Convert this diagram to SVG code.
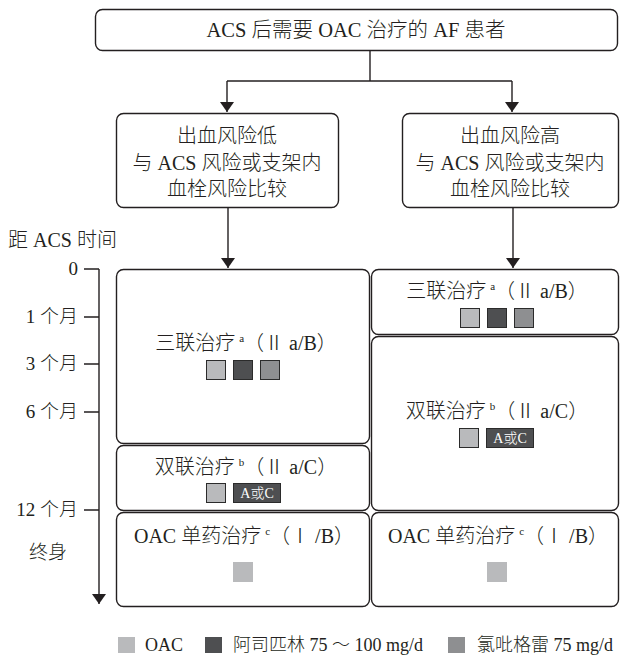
<svg xmlns="http://www.w3.org/2000/svg" width="620" height="656" viewBox="0 0 620 656">
  <style>
    text { font-family: "Liberation Serif", "Noto Sans CJK SC", serif; font-weight: 300; fill: #231f20; }
    .t20 { font-size: 20px; }
    .t19 { font-size: 19px; }
    .t18 { font-size: 18px; }
    .mid { text-anchor: middle; }
    .end { text-anchor: end; }
    .box { fill: #ffffff; stroke: #231f20; stroke-width: 1.4; }
    .line { fill: none; stroke: #231f20; stroke-width: 1.4; }
    .sq { stroke: #2b2b2b; stroke-width: 1; }
    .oac { fill: #b9babc; }
    .asa { fill: #4e4f51; }
    .clo { fill: #8e8f91; }
    .sup { font-size: 11px; }
    .tag { font-size: 14px; fill: #ffffff; text-anchor: middle; }
  </style>
  <defs>
    <marker id="arrow" viewBox="0 0 10 14" refX="10" refY="7" markerWidth="10" markerHeight="14" markerUnits="userSpaceOnUse" orient="auto">
      <path d="M0,0 L10,7 L0,14 Z" fill="#231f20"/>
    </marker>
  </defs>

  <!-- connectors -->
  <g id="connectors">
    <path class="line" d="M370,50 V81"/>
    <path class="line" d="M227,81 H512"/>
    <path class="line" d="M227,81 V112" marker-end="url(#arrow)"/>
    <path class="line" d="M512,81 V112" marker-end="url(#arrow)"/>
    <path class="line" d="M228,207 V268" marker-end="url(#arrow)"/>
    <path class="line" d="M513,207 V268" marker-end="url(#arrow)"/>
  </g>

  <!-- root -->
  <g id="root">
    <rect class="box" x="95.5" y="9.5" width="522" height="41" rx="7"/>
    <text class="t20 mid" x="356" y="37" style="font-size:20.5px">ACS 后需要 OAC 治疗的 AF 患者</text>
  </g>

  <!-- risk groups -->
  <g id="low-bleeding">
    <rect class="box" x="116.5" y="113.5" width="222" height="94" rx="7"/>
    <text class="t20 mid" x="227" y="143">出血风险低</text>
    <text class="t20 mid" x="227" y="170">与 ACS 风险或支架内</text>
    <text class="t20 mid" x="227" y="196">血栓风险比较</text>
  </g>
  <g id="high-bleeding">
    <rect class="box" x="402.5" y="113.5" width="216" height="94" rx="7"/>
    <text class="t20 mid" x="510" y="143">出血风险高</text>
    <text class="t20 mid" x="510" y="170">与 ACS 风险或支架内</text>
    <text class="t20 mid" x="510" y="196">血栓风险比较</text>
  </g>

  <!-- time axis -->
  <g id="time-axis">
    <text class="t20" x="8" y="247">距 ACS 时间</text>
    <path class="line" d="M99,269 V604" marker-end="url(#arrow)"/>
    <path class="line" d="M84,269 H99 M84,317 H99 M84,364 H99 M84,412 H99 M84,510 H99"/>
    <text class="t19 end" x="78" y="275">0</text>
    <text class="t19 end" x="78" y="323">1 个月</text>
    <text class="t19 end" x="78" y="370">3 个月</text>
    <text class="t19 end" x="78" y="418">6 个月</text>
    <text class="t19 end" x="78" y="516">12 个月</text>
    <text class="t19 mid" x="48" y="559">终身</text>
  </g>

  <!-- low bleeding risk regimen -->
  <g id="low-triple">
    <rect class="box" x="116.5" y="269.5" width="253" height="174" rx="7"/>
    <text class="t20 mid" x="246" y="350">三联治疗<tspan class="sup" dx="4" dy="-8">a</tspan><tspan dy="8">（Ⅱ a/B）</tspan></text>
    <rect class="sq oac" x="206.5" y="360.5" width="19" height="19"/>
    <rect class="sq asa" x="233.5" y="360.5" width="19" height="19"/>
    <rect class="sq clo" x="260.5" y="360.5" width="19" height="19"/>
  </g>
  <g id="low-dual">
    <rect class="box" x="116.5" y="445.5" width="253" height="65" rx="7"/>
    <text class="t20 mid" x="246" y="474">双联治疗<tspan class="sup" dx="4" dy="-8">b</tspan><tspan dy="8">（Ⅱ a/C）</tspan></text>
    <rect class="sq oac" x="206.5" y="483.5" width="19" height="19"/>
    <rect class="sq asa" x="233.5" y="483.5" width="47" height="19"/>
    <text class="tag" x="257" y="498">A或C</text>
  </g>
  <g id="low-mono">
    <rect class="box" x="116.5" y="512.5" width="253" height="94" rx="7"/>
    <text class="t20 mid" x="244" y="543">OAC 单药治疗<tspan class="sup" dx="4" dy="-8">c</tspan><tspan dy="8">（Ⅰ /B）</tspan></text>
    <rect class="oac" x="233" y="562" width="20" height="20"/>
  </g>

  <!-- high bleeding risk regimen -->
  <g id="high-triple">
    <rect class="box" x="371.5" y="269.5" width="247" height="65" rx="7"/>
    <text class="t20 mid" x="497" y="298">三联治疗<tspan class="sup" dx="4" dy="-8">a</tspan><tspan dy="8">（Ⅱ a/B）</tspan></text>
    <rect class="sq oac" x="460.5" y="308.5" width="19" height="19"/>
    <rect class="sq asa" x="487.5" y="308.5" width="19" height="19"/>
    <rect class="sq clo" x="514.5" y="308.5" width="19" height="19"/>
  </g>
  <g id="high-dual">
    <rect class="box" x="371.5" y="336.5" width="247" height="174" rx="7"/>
    <text class="t20 mid" x="497" y="418">双联治疗<tspan class="sup" dx="4" dy="-8">b</tspan><tspan dy="8">（Ⅱ a/C）</tspan></text>
    <rect class="sq oac" x="459.5" y="428.5" width="19" height="19"/>
    <rect class="sq asa" x="486.5" y="428.5" width="47" height="19"/>
    <text class="tag" x="510" y="443">A或C</text>
  </g>
  <g id="high-mono">
    <rect class="box" x="371.5" y="512.5" width="247" height="94" rx="7"/>
    <text class="t20 mid" x="498" y="543">OAC 单药治疗<tspan class="sup" dx="4" dy="-8">c</tspan><tspan dy="8">（Ⅰ /B）</tspan></text>
    <rect class="oac" x="487" y="562" width="20" height="20"/>
  </g>

  <!-- legend -->
  <g id="legend">
    <rect class="oac" x="118" y="637" width="17" height="16"/>
    <text class="t18" x="145" y="651">OAC</text>
    <rect class="asa" x="205" y="637" width="17" height="16"/>
    <text class="t18" x="233" y="651">阿司匹林 75 ～ 100 mg/d</text>
    <rect class="clo" x="448" y="637" width="17" height="16"/>
    <text class="t18" x="477" y="651">氯吡格雷 75 mg/d</text>
  </g>
</svg>
